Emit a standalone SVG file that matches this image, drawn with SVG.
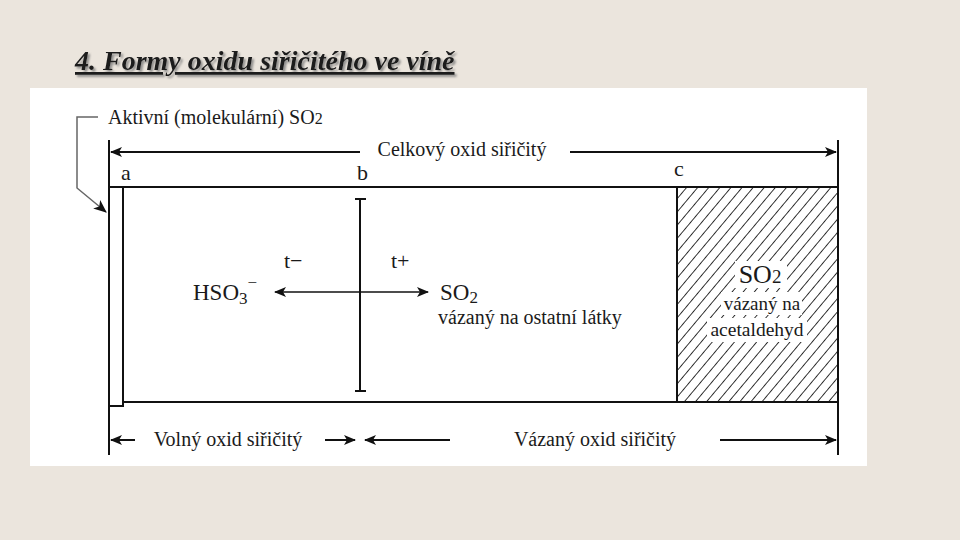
<svg xmlns="http://www.w3.org/2000/svg" width="960" height="540" viewBox="0 0 960 540">
<style>
.t{font-family:"Liberation Serif","Times New Roman",serif;fill:#1a1a1a}
.ln{stroke:#111;stroke-width:2}
.tn{stroke:#111;stroke-width:1.5}
</style>
<defs>
<marker id="ah" viewBox="0 0 12 10" refX="11" refY="5" markerWidth="12" markerHeight="10" markerUnits="userSpaceOnUse" orient="auto-start-reverse">
<path d="M0,0 L12,5 L0,10 L3,5 Z" fill="#111"/>
</marker>
<marker id="ahg" viewBox="0 0 12 10" refX="11" refY="5" markerWidth="14" markerHeight="11" markerUnits="userSpaceOnUse" orient="auto">
<path d="M0,0 L12,5 L0,10 L3,5 Z" fill="#111"/>
</marker>
<pattern id="hatch" patternUnits="userSpaceOnUse" width="8.5" height="12" patternTransform="rotate(40)">
<rect width="8.5" height="12" fill="#fff"/>
<line x1="0" y1="0" x2="0" y2="12" stroke="#111" stroke-width="1.7"/>
</pattern>
<filter id="sh" x="-5%" y="-20%" width="110%" height="150%">
<feDropShadow dx="2" dy="2" stdDeviation="0.8" flood-color="#777" flood-opacity="0.8"/>
</filter>
</defs>
<rect width="960" height="540" fill="#ebe5dd"/>
<g id="title" filter="url(#sh)">
<text class="t" x="75" y="70" font-size="28" font-weight="bold" font-style="italic" text-decoration="underline" fill="#111">4. Formy oxidu siřičitého ve víně</text>
</g>
<rect x="30" y="88" width="837" height="378" fill="#fff"/>
<g id="box">
<rect x="109" y="187" width="729" height="215" class="ln" fill="none"/>
<rect x="109" y="187" width="14" height="219" class="ln" fill="#fff"/>
</g>
<g id="hatched">
<rect x="677" y="187" width="161" height="215" fill="url(#hatch)" class="ln"/>
<rect x="735" y="261" width="52" height="27" fill="#fff"/>
<rect x="721" y="292" width="81" height="23" fill="#fff"/>
<rect x="707" y="318" width="100" height="24" fill="#fff"/>
<text class="t" x="760" y="283" font-size="26" text-anchor="middle">SO<tspan font-size="19">2</tspan></text>
<text class="t" x="762" y="310" font-size="19" text-anchor="middle">vázaný na</text>
<text class="t" x="757" y="336" font-size="19.5" text-anchor="middle">acetaldehyd</text>
</g>
<g id="labels">
<text class="t" x="121" y="180" font-size="22">a</text>
<text class="t" x="357" y="180" font-size="22">b</text>
<text class="t" x="674" y="176" font-size="22">c</text>
<text class="t" x="108" y="124" font-size="20">Aktivní (molekulární) SO<tspan font-size="16">2</tspan></text>
<text class="t" x="462" y="156" font-size="20" text-anchor="middle">Celkový oxid siřičitý</text>
<text class="t" x="228" y="446" font-size="20" text-anchor="middle">Volný oxid siřičitý</text>
<text class="t" x="595" y="446" font-size="20" text-anchor="middle">Vázaný oxid siřičitý</text>
</g>
<g id="equilibrium">
<text class="t" x="193" y="300" font-size="23">HSO<tspan font-size="17" dy="4">3</tspan><tspan font-size="17" dy="-16">−</tspan></text>
<text class="t" x="284" y="268" font-size="22">t−</text>
<text class="t" x="391" y="268" font-size="22">t+</text>
<text class="t" x="440" y="300" font-size="23">SO<tspan font-size="17" dy="3">2</tspan></text>
<text class="t" x="438" y="324" font-size="20">vázaný na ostatní látky</text>
</g>
<g id="connectors">
<line x1="109" y1="140" x2="109" y2="455" class="ln"/>
<line x1="838" y1="140" x2="838" y2="455" class="ln"/>
<line x1="360" y1="152" x2="111" y2="152" class="ln" marker-end="url(#ah)"/>
<line x1="570" y1="152" x2="836" y2="152" class="ln" marker-end="url(#ah)"/>
<line x1="360" y1="199" x2="360" y2="391" class="ln"/>
<line x1="355" y1="199" x2="366" y2="199" class="ln"/>
<line x1="355" y1="391" x2="366" y2="391" class="ln"/>
<line x1="360" y1="292" x2="275" y2="292" class="tn" marker-end="url(#ah)"/>
<line x1="360" y1="292" x2="428" y2="292" class="tn" marker-end="url(#ah)"/>
<line x1="135" y1="440" x2="111" y2="440" class="ln" marker-end="url(#ah)"/>
<line x1="325" y1="440" x2="355" y2="440" class="ln" marker-end="url(#ah)"/>
<line x1="450" y1="440" x2="365" y2="440" class="ln" marker-end="url(#ah)"/>
<line x1="720" y1="440" x2="836" y2="440" class="ln" marker-end="url(#ah)"/>
<polyline points="98,117 77,117 77,188 106,212" stroke="#666" stroke-width="1.5" fill="none" marker-end="url(#ahg)"/>
</g>
</svg>
